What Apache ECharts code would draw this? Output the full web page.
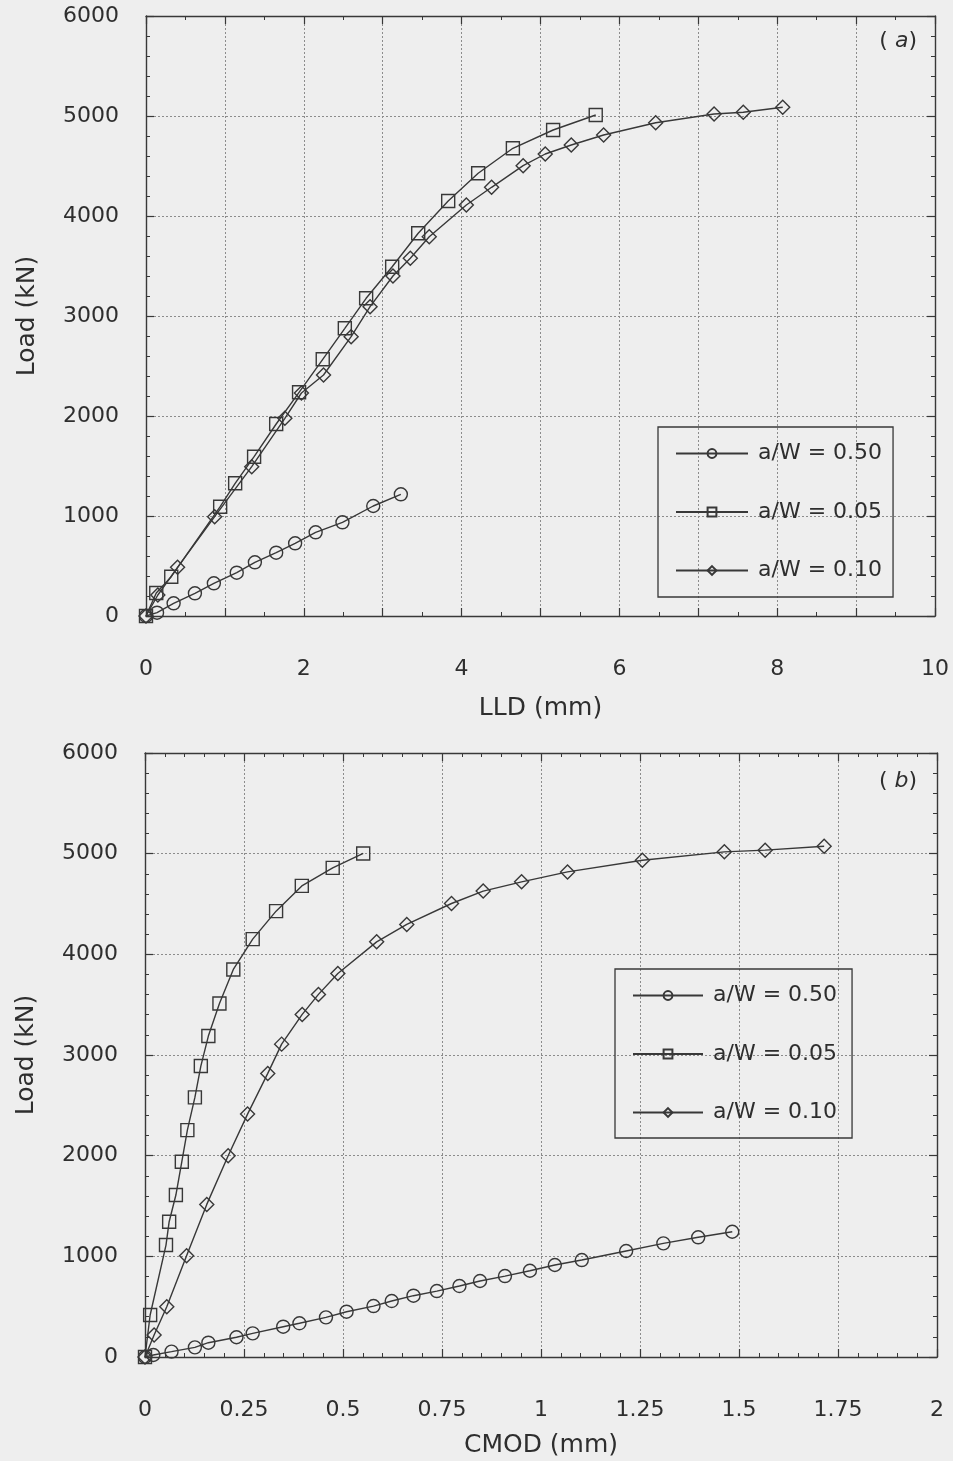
<!DOCTYPE html>
<html>
<head>
<meta charset="utf-8">
<script src="https://cdn.jsdelivr.net/npm/echarts@6/dist/echarts.min.js"></script>
<style>
  html, body { margin: 0; padding: 0; background: #eeeeee; }
  #chart { width: 953px; height: 1461px; }
</style>
</head>
<body>
<div id="chart"></div>
<script>
// ---- Panel (a): load vs. load-line displacement (LLD, mm) ----
const lldAw050 = [0, 0.14, 0.35, 0.62, 0.86, 1.15, 1.38, 1.65, 1.89, 2.15, 2.49, 2.88, 3.23];
const loadLldAw050 = [0, 33, 127, 227, 327, 433, 537, 633, 727, 837, 937, 1100, 1217];

const lldAw005 = [0, 0.13, 0.32, 0.94, 1.13, 1.37, 1.65, 1.94, 2.24, 2.52, 2.79, 3.12, 3.45, 3.83, 4.21, 4.65, 5.16, 5.70];
const loadLldAw005 = [0, 230, 393, 1093, 1327, 1593, 1920, 2237, 2567, 2877, 3177, 3493, 3827, 4150, 4427, 4677, 4860, 5010];

const lldAw010 = [0, 0.15, 0.40, 0.87, 1.34, 1.76, 1.97, 2.25, 2.60, 2.84, 3.13, 3.35, 3.59, 4.06, 4.38, 4.78, 5.06, 5.39, 5.80, 6.46, 7.20, 7.57, 8.07];
const loadLldAw010 = [0, 210, 487, 993, 1493, 1977, 2230, 2410, 2793, 3093, 3400, 3577, 3793, 4110, 4287, 4503, 4620, 4710, 4810, 4933, 5020, 5037, 5087];

// ---- Panel (b): load vs. crack-mouth opening displacement (CMOD, mm) ----
const cmodAw050 = [0, 0.021, 0.067, 0.126, 0.160, 0.231, 0.272, 0.349, 0.390, 0.457, 0.509, 0.577, 0.623, 0.678, 0.737, 0.794, 0.846, 0.909, 0.972, 1.035, 1.103, 1.215, 1.309, 1.397, 1.483];
const loadCmodAw050 = [0, 20, 53, 96, 142, 196, 235, 301, 335, 394, 450, 506, 556, 609, 655, 705, 755, 804, 857, 914, 963, 1053, 1129, 1189, 1244];

const cmodAw005 = [0, 0.013, 0.053, 0.061, 0.078, 0.093, 0.107, 0.126, 0.141, 0.160, 0.188, 0.223, 0.272, 0.331, 0.396, 0.474, 0.551];
const loadCmodAw005 = [0, 417, 1112, 1344, 1609, 1940, 2254, 2579, 2890, 3188, 3512, 3850, 4151, 4429, 4680, 4859, 5002];

const cmodAw010 = [0, 0.023, 0.055, 0.105, 0.156, 0.210, 0.259, 0.310, 0.345, 0.397, 0.438, 0.487, 0.585, 0.661, 0.774, 0.854, 0.951, 1.067, 1.256, 1.463, 1.566, 1.715];
const loadCmodAw010 = [0, 218, 500, 1006, 1516, 1999, 2413, 2817, 3108, 3403, 3602, 3810, 4124, 4297, 4505, 4628, 4720, 4819, 4935, 5018, 5035, 5074];

const seriesNames = ['a/W = 0.50', 'a/W = 0.05', 'a/W = 0.10'];
const yTicks = [0, 1000, 2000, 3000, 4000, 5000, 6000];

const ink = '#383838';
const textInk = '#2e2e2e';
const font = "'DejaVu Sans', 'Liberation Sans', Arial, sans-serif";

const chart = echarts.init(document.getElementById('chart'), null, { renderer: 'canvas' });

function pairs(xs, ys) { return xs.map((x, i) => [x, ys[i]]); }

function curve(name, symbol, size, xs, ys, panel) {
  return {
    type: 'line',
    name: name,
    xAxisIndex: panel * 2,
    yAxisIndex: panel * 2,
    data: pairs(xs, ys),
    symbol: symbol,
    symbolSize: size,
    showAllSymbol: true,
    clip: false,
    animation: false,
    silent: true,
    lineStyle: { color: ink, width: 1.4 },
    itemStyle: { color: 'rgba(0,0,0,0)', borderColor: ink, borderWidth: 1.4 },
    emphasis: { disabled: true }
  };
}

// Every side of each plot box carries inward-pointing ticks.
const majorTick = { show: true, inside: true, length: 8, lineStyle: { color: ink, width: 1.2 } };
function minorTickOf(split) {
  return { show: true, splitNumber: split, length: 4, lineStyle: { color: ink, width: 1 } };
}
const frameLine = { show: true, onZero: false, lineStyle: { color: ink, width: 1.4 } };
const gridLine = { show: true, lineStyle: { color: '#8c8c8c', type: [2, 2], width: 1 } };

function xAxisPair(grid, max, interval, minorSplit, name, nameGap, labelFmt) {
  const common = {
    gridIndex: grid, type: 'value', min: 0, max: max, interval: interval,
    axisLine: frameLine, axisTick: majorTick, minorTick: minorTickOf(minorSplit)
  };
  return [
    Object.assign({}, common, {
      position: 'bottom',
      name: name, nameLocation: 'middle', nameGap: nameGap,
      nameTextStyle: { color: textInk, fontSize: 25, fontFamily: font },
      splitLine: gridLine,
      axisLabel: { show: true, margin: 42, color: textInk, fontSize: 22, fontFamily: font, formatter: labelFmt }
    }),
    Object.assign({}, common, {
      position: 'top',
      splitLine: { show: false },
      axisLabel: { show: false }
    })
  ];
}

function yAxisPair(grid) {
  const common = {
    gridIndex: grid, type: 'value', min: yTicks[0], max: yTicks[yTicks.length - 1], interval: 1000,
    axisLine: frameLine, axisTick: majorTick, minorTick: minorTickOf(5)
  };
  return [
    Object.assign({}, common, {
      position: 'left',
      name: 'Load (kN)', nameLocation: 'middle', nameGap: 106, nameRotate: 90,
      nameTextStyle: { color: textInk, fontSize: 25, fontFamily: font },
      splitLine: gridLine,
      axisLabel: { show: true, margin: 27, color: textInk, fontSize: 22, fontFamily: font,
        formatter: v => String(v) }
    }),
    Object.assign({}, common, {
      position: 'right',
      splitLine: { show: false },
      axisLabel: { show: false }
    })
  ];
}

const lldFmt = v => (Math.round(v) % 2 === 0 ? String(Math.round(v)) : '');
const cmodFmt = v => String(Math.round(v * 100) / 100);

function legendAt(left, top, itemWidth, pad) {
  return {
    left: left, top: top, orient: 'vertical',
    data: seriesNames,
    selectedMode: false,
    backgroundColor: 'rgba(0,0,0,0)',
    borderColor: ink, borderWidth: 1.3, borderRadius: 0,
    padding: pad,
    itemWidth: itemWidth, itemHeight: 11, itemGap: 35.5,
    textStyle: { color: textInk, fontSize: 22, lineHeight: 23, fontFamily: font, padding: [0, 0, 0, 5] }
  };
}

function panelTag(letter, right, top) {
  return {
    text: '{p|( }{i|' + letter + '}{p|)}',
    right: right, top: top, padding: 0,
    textStyle: {
      fontWeight: 'normal',
      rich: {
        p: { fontSize: 22, color: textInk, fontFamily: font, fontWeight: 'normal' },
        i: { fontSize: 22, color: textInk, fontFamily: font, fontWeight: 'normal', fontStyle: 'italic' }
      }
    }
  };
}

const xa = xAxisPair(0, 10, 1, 2, 'LLD (mm)', 80, lldFmt);
const xb = xAxisPair(1, 2, 0.25, 5, 'CMOD (mm)', 76, cmodFmt);
const ya = yAxisPair(0);
const yb = yAxisPair(1);

chart.setOption({
  backgroundColor: '#eeeeee',
  animation: false,
  title: [panelTag('a', 36, 30), panelTag('b', 36, 770)],
  grid: [
    { left: 146, top: 16, width: 789, height: 600 },
    { left: 145, top: 753, width: 792, height: 604 }
  ],
  xAxis: [xa[0], xa[1], xb[0], xb[1]],
  yAxis: [ya[0], ya[1], yb[0], yb[1]],
  legend: [
    legendAt(658, 427, 72, [15, 11, 15, 17]),
    legendAt(615, 969, 70, [15, 15, 14, 17])
  ],
  series: [
    curve(seriesNames[0], 'circle', 13, lldAw050, loadLldAw050, 0),
    curve(seriesNames[1], 'rect', 13, lldAw005, loadLldAw005, 0),
    curve(seriesNames[2], 'diamond', 14, lldAw010, loadLldAw010, 0),
    curve(seriesNames[0], 'circle', 13, cmodAw050, loadCmodAw050, 1),
    curve(seriesNames[1], 'rect', 13, cmodAw005, loadCmodAw005, 1),
    curve(seriesNames[2], 'diamond', 14, cmodAw010, loadCmodAw010, 1)
  ]
});
</script>
</body>
</html>
